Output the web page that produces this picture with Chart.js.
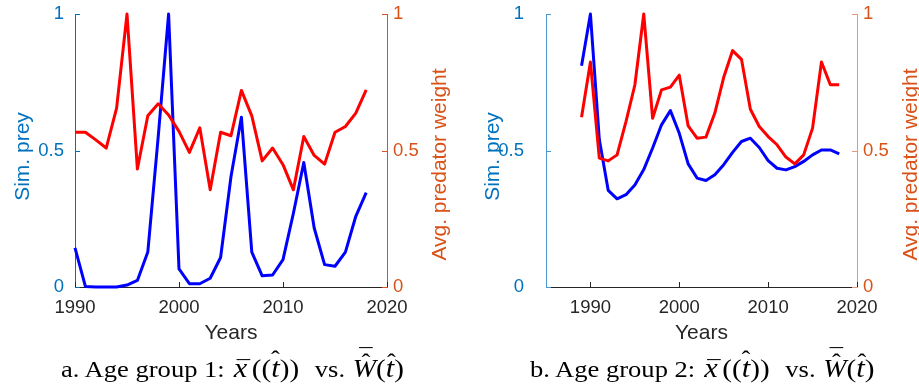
<!DOCTYPE html>
<html><head><meta charset="utf-8">
<script src="https://cdn.jsdelivr.net/npm/chart.js@4.4.1/dist/chart.umd.min.js"></script>
<style>
html,body{margin:0;padding:0;background:#fff;}
body{width:919px;height:387px;position:relative;overflow:hidden;}
.box{position:absolute;top:0;height:345px;}
.cap{position:absolute;top:357px;font-family:"Liberation Serif","Times New Roman",serif;font-size:23.5px;line-height:24px;white-space:nowrap;color:#000;transform-origin:0 50%;transform:scaleX(1.13);}
.acc{position:relative;display:inline-block;}
.acc .top{position:absolute;left:0;right:0;text-align:center;font-style:normal;}
.p{font-size:1.1em;line-height:0;}
.v{font-size:1.15em;line-height:0;}
.w{font-size:1.05em;line-height:0;}
.g1{margin-left:2px;margin-right:8px;}
.g2{margin-left:1px;}
</style></head><body>
<div class="box" style="left:0;width:459px"><canvas id="c1" width="459" height="345"></canvas></div>
<div class="box" style="left:459px;width:460px"><canvas id="c2" width="460" height="345"></canvas></div>
<div class="cap" style="left:61px">a. Age group 1: <span class="g1"><span class="acc"><i class="v">x</i><span class="top" style="top:-0.02em;left:0.12em">¯</span></span><span class="p" style="margin-left:4px">(</span><span class="acc"><span class="p">(</span><i class="v">t</i><span class="p">)</span><span class="top" style="top:-0.42em">ˆ</span></span><span class="p">)</span></span> vs. <span class="g2"><span class="acc"><i class="w">W</i><span class="top" style="top:-0.28em;left:0.12em">ˆ</span><span class="top" style="top:-0.5em;left:0.12em">¯</span></span><span class="p">(</span><span class="acc"><i class="v">t</i><span class="top" style="top:-0.3em;left:0.05em">ˆ</span></span><span class="p">)</span></span></div>
<div class="cap" style="left:530px">b. Age group 2: <span class="g1"><span class="acc"><i class="v">x</i><span class="top" style="top:-0.02em;left:0.12em">¯</span></span><span class="p" style="margin-left:4px">(</span><span class="acc"><span class="p">(</span><i class="v">t</i><span class="p">)</span><span class="top" style="top:-0.42em">ˆ</span></span><span class="p">)</span></span> vs. <span class="g2"><span class="acc"><i class="w">W</i><span class="top" style="top:-0.28em;left:0.12em">ˆ</span><span class="top" style="top:-0.5em;left:0.12em">¯</span></span><span class="p">(</span><span class="acc"><i class="v">t</i><span class="top" style="top:-0.3em;left:0.05em">ˆ</span></span><span class="p">)</span></span></div>
<script>
// ---- data ----
const yearsA = [1990,1991,1992,1993,1994,1995,1996,1997,1998,1999,2000,2001,2002,2003,2004,2005,2006,2007,2008,2009,2010,2011,2012,2013,2014,2015,2016,2017,2018];
const preyA  = [0.143,0.002,0,0,0,0.007,0.024,0.128,0.55,1.0,0.066,0.012,0.012,0.032,0.108,0.405,0.622,0.128,0.041,0.044,0.10,0.27,0.456,0.216,0.082,0.076,0.128,0.259,0.346];
const predA  = [0.567,0.567,0.539,0.509,0.655,1.0,0.432,0.627,0.671,0.63,0.57,0.493,0.583,0.356,0.567,0.554,0.72,0.627,0.462,0.509,0.448,0.356,0.551,0.482,0.45,0.567,0.588,0.637,0.722];

const yearsB = [1989,1990,1991,1992,1993,1994,1995,1996,1997,1998,1999,2000,2001,2002,2003,2004,2005,2006,2007,2008,2009,2010,2011,2012,2013,2014,2015,2016,2017,2018];
const preyB  = [0.81,1.0,0.54,0.354,0.323,0.338,0.374,0.43,0.509,0.594,0.646,0.563,0.451,0.399,0.39,0.411,0.448,0.493,0.533,0.545,0.511,0.463,0.435,0.429,0.441,0.46,0.484,0.502,0.502,0.488];
const predB  = [0.622,0.824,0.472,0.462,0.484,0.606,0.74,1.0,0.618,0.722,0.732,0.776,0.59,0.545,0.549,0.637,0.768,0.866,0.834,0.651,0.588,0.551,0.521,0.476,0.451,0.484,0.582,0.824,0.741,0.741];

const xTicks = [1990,2000,2010,2020];
const yTicks = [0,0.5,1];
const xTitle = 'Years';
const leftTitle = 'Sim. prey';
const rightTitle = 'Avg. predator weight';

// ---- styles ----
const FAM = '"Liberation Sans", Arial, Helvetica, sans-serif';
const BLUE_AX = '#0072BD', ORANGE_AX = '#D95319', GRAY = '#262626';
const NONE = 'rgba(0,0,0,0)';

const inwardTicks = {
  id: 'inwardTicks',
  afterDraw(chart) {
    const ctx = chart.ctx, a = chart.chartArea, L = 5;
    ctx.save();
    ctx.lineWidth = 1;
    const sx = chart.scales.x;
    ctx.strokeStyle = GRAY;
    sx.ticks.forEach(t => {
      const p = Math.round(sx.getPixelForValue(t.value)) + 0.5;
      ctx.beginPath(); ctx.moveTo(p, a.bottom); ctx.lineTo(p, a.bottom - L); ctx.stroke();
    });
    const yl = chart.scales.yL, yr = chart.scales.yR;
    ctx.strokeStyle = yl.options.border.color;
    yl.ticks.forEach(t => {
      const p = Math.round(yl.getPixelForValue(t.value)) + 0.5;
      ctx.beginPath(); ctx.moveTo(a.left, p); ctx.lineTo(a.left + L, p); ctx.stroke();
    });
    ctx.strokeStyle = yr.options.border.color;
    yr.ticks.forEach(t => {
      const p = Math.round(yr.getPixelForValue(t.value)) + 0.5;
      ctx.beginPath(); ctx.moveTo(a.right, p); ctx.lineTo(a.right - L, p); ctx.stroke();
    });
    ctx.restore();
  }
};

const yTitles = {
  id: 'yTitles',
  afterDraw(chart, args, o) {
    const ctx = chart.ctx, a = chart.chartArea;
    const cy = (a.top + a.bottom) / 2;
    ctx.save();
    ctx.font = '21px ' + FAM;
    ctx.textAlign = 'center'; ctx.textBaseline = 'middle';
    [[o.leftText, o.leftX, cy + o.leftDy, BLUE_AX], [o.rightText, o.rightX, cy + o.rightDy, ORANGE_AX]].forEach(([txt, x, y, c]) => {
      ctx.save(); ctx.translate(x, y); ctx.rotate(-Math.PI / 2);
      ctx.fillStyle = c; ctx.fillText(txt, 0, 0); ctx.restore();
    });
    ctx.restore();
  }
};

function makeChart(id, years, prey, pred, xMin, cfg) {
  const setTicks = arr => s => { s.ticks = arr.map(v => ({ value: v })); };
  return new Chart(document.getElementById(id), {
    type: 'line',
    data: {
      datasets: [
        { label: rightTitle, data: years.map((x, i) => ({ x, y: pred[i] })), yAxisID: 'yR',
          borderColor: '#FF0000', borderWidth: 3, pointRadius: 0, tension: 0, order: 0, clip: 6, borderJoinStyle: 'round', borderCapStyle: 'butt' },
        { label: leftTitle, data: years.map((x, i) => ({ x, y: prey[i] })), yAxisID: 'yL',
          borderColor: '#0000FF', borderWidth: 3, pointRadius: 0, tension: 0, order: 1, clip: 6, borderJoinStyle: 'round', borderCapStyle: 'butt' }
      ]
    },
    options: {
      responsive: false, animation: false, devicePixelRatio: 1,
      layout: { padding: { top: 14, left: 0, right: 0, bottom: 0 } },
      plugins: {
        legend: { display: false }, tooltip: { enabled: false },
        yTitles: { leftText: leftTitle, rightText: rightTitle, leftX: cfg.ltx, rightX: cfg.rtx, leftDy: 6, rightDy: 14 }
      },
      scales: {
        x: {
          type: 'linear', position: 'bottom', min: xMin, max: 2020,
          afterBuildTicks: setTicks(xTicks), afterFit: s => { s.height = 58; },
          grid: { display: false, drawTicks: false },
          border: { display: true, color: GRAY, width: 1 },
          ticks: { color: GRAY, font: { family: FAM, size: 18.5 }, padding: 10, autoSkip: false, maxRotation: 0, callback: v => String(v) },
          title: { display: true, text: xTitle, color: GRAY, font: { family: FAM, size: 21, lineHeight: 1 }, padding: { top: 0, bottom: 1.5 } }
        },
        yL: {
          type: 'linear', position: 'left', min: 0, max: 1,
          afterBuildTicks: setTicks(yTicks), afterFit: s => { s.width = cfg.lw; },
          grid: { display: true, drawOnChartArea: false, drawTicks: true, tickLength: cfg.lpad, color: NONE, tickColor: NONE },
          border: { display: true, color: cfg.lborder, width: 1 },
          ticks: { color: BLUE_AX, font: { family: FAM, size: 18.5 }, padding: 0, callback: v => String(v) }
        },
        yR: {
          type: 'linear', position: 'right', min: 0, max: 1,
          afterBuildTicks: setTicks(yTicks), afterFit: s => { s.width = cfg.rw; },
          grid: { display: true, drawOnChartArea: false, drawTicks: true, tickLength: cfg.rpad, color: NONE, tickColor: NONE },
          border: { display: true, color: cfg.rborder, width: 1 },
          ticks: { color: ORANGE_AX, font: { family: FAM, size: 18.5 }, padding: 0, callback: v => String(v) }
        }
      }
    },
    plugins: [inwardTicks, yTitles]
  });
}

makeChart('c1', yearsA, preyA, predA, 1990, { lw: 75, rw: 72, lpad: 11, rpad: 6, ltx: 23, rtx: 440, lborder: BLUE_AX, rborder: ORANGE_AX });
makeChart('c2', yearsB, preyB, predB, 1985, { lw: 87, rw: 62, lpad: 22, rpad: 6, ltx: 34, rtx: 452, lborder: '#4A98D0', rborder: '#E8987A' });
</script>
</body></html>
